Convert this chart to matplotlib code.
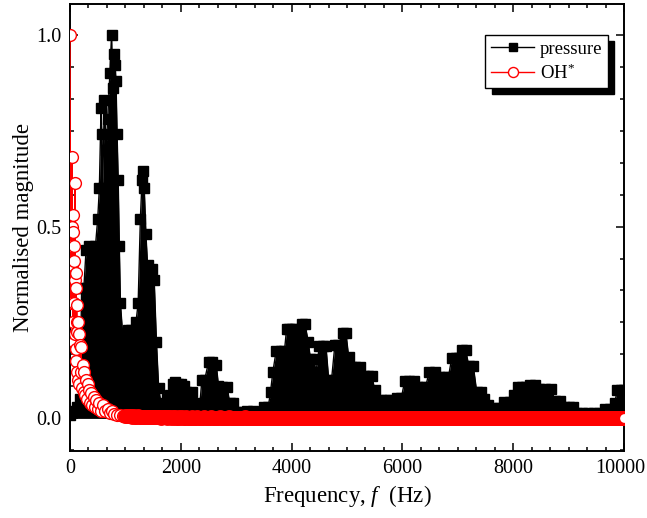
import numpy as np
import matplotlib
matplotlib.use("Agg")
import matplotlib.pyplot as plt
from matplotlib.ticker import AutoMinorLocator, FixedLocator
from matplotlib.transforms import ScaledTranslation

# pressure spectrum (upper envelope of the dense spectrum)
p_freq = [0, 60, 120, 180, 210, 250, 290, 350, 410, 460,
          500, 530, 560, 575, 590, 620, 650, 680, 720, 750,
          770, 790, 810, 830, 850, 870, 890, 910, 950, 1000,
          1050, 1100, 1150, 1190, 1230, 1270, 1300, 1320, 1340, 1370,
          1400, 1440, 1480, 1520, 1560, 1600, 1650, 1700, 1750, 1800,
          1850, 1900, 1950, 2000, 2050, 2100, 2200, 2260, 2300, 2340,
          2380, 2430, 2500, 2570, 2640, 2680, 2750, 2840, 2880, 2950,
          3000, 3100, 3200, 3300, 3380, 3450, 3500, 3580, 3620, 3660,
          3720, 3800, 3870, 3910, 3960, 4000, 4060, 4120, 4190, 4240,
          4300, 4340, 4400, 4440, 4500, 4560, 4620, 4670, 4720, 4780,
          4840, 4920, 4980, 5030, 5080, 5150, 5230, 5300, 5380, 5450,
          5500, 5560, 5620, 5700, 5780, 5840, 5900, 5980, 6040, 6120,
          6200, 6260, 6350, 6420, 6480, 6580, 6660, 6750, 6830, 6890,
          6960, 7020, 7080, 7140, 7200, 7280, 7340, 7420, 7480, 7550,
          7650, 7750, 7830, 7950, 8020, 8080, 8160, 8230, 8300, 8400,
          8470, 8570, 8680, 8760, 8850, 8920, 9000, 9080, 9150, 9250,
          9350, 9450, 9550, 9650, 9750, 9830, 9880, 9950, 10000]
p_mag = [0.01, 0.02, 0.03, 0.05, 0.34, 0.34, 0.44, 0.45, 0.44, 0.45,
         0.52, 0.60, 0.81, 0.74, 0.60, 0.83, 0.70, 0.78, 0.90, 1.00,
         0.86, 0.95, 0.92, 0.88, 0.74, 0.62, 0.45, 0.30, 0.22, 0.20,
         0.23, 0.23, 0.22, 0.25, 0.30, 0.52, 0.62, 0.645, 0.60, 0.48,
         0.40, 0.38, 0.39, 0.36, 0.20, 0.08, 0.03, 0.04, 0.05, 0.06,
         0.09, 0.094, 0.09, 0.09, 0.085, 0.07, 0.07, 0.04, 0.015, 0.03,
         0.10, 0.10, 0.147, 0.147, 0.14, 0.085, 0.082, 0.082, 0.04, 0.04,
         0.016, 0.016, 0.02, 0.02, 0.015, 0.015, 0.031, 0.031, 0.07, 0.12,
         0.175, 0.175, 0.175, 0.234, 0.234, 0.234, 0.234, 0.22, 0.247, 0.247,
         0.20, 0.155, 0.155, 0.12, 0.188, 0.188, 0.188, 0.10, 0.10, 0.19,
         0.19, 0.223, 0.223, 0.16, 0.133, 0.133, 0.133, 0.11, 0.11, 0.11,
         0.074, 0.035, 0.047, 0.047, 0.047, 0.03, 0.053, 0.053, 0.097, 0.097,
         0.097, 0.082, 0.082, 0.082, 0.121, 0.121, 0.107, 0.107, 0.107, 0.158,
         0.158, 0.158, 0.179, 0.179, 0.136, 0.136, 0.07, 0.07, 0.05, 0.035,
         0.027, 0.027, 0.044, 0.044, 0.06, 0.081, 0.081, 0.081, 0.087, 0.087,
         0.077, 0.077, 0.077, 0.046, 0.046, 0.029, 0.029, 0.029, 0.013, 0.013,
         0.013, 0.015, 0.015, 0.025, 0.025, 0.04, 0.074, 0.074, 0.074]

# OH* spectrum: low-frequency decay
oh_freq_low = [0, 10, 20, 30, 36, 45, 50, 55, 60, 65,
               70, 75, 80, 85, 90, 95, 100, 105, 110, 115,
               120, 125, 130, 135, 140, 150, 160, 170, 180, 190,
               200, 215, 230, 245, 260, 275, 290, 305, 320, 340,
               360, 380, 400, 425, 450, 475, 500, 530, 560, 600,
               640, 680, 720, 760, 800, 850, 900, 950]
oh_mag_low = [1.0, 0.45, 0.30, 0.50, 0.68, 0.40, 0.53, 0.25, 0.486, 0.30,
              0.45, 0.20, 0.41, 0.22, 0.614, 0.36, 0.18, 0.38, 0.34, 0.15,
              0.295, 0.25, 0.12, 0.225, 0.25, 0.10, 0.22, 0.09, 0.19, 0.12,
              0.186, 0.08, 0.14, 0.07, 0.12, 0.06, 0.10, 0.05, 0.09, 0.073,
              0.04, 0.065, 0.035, 0.055, 0.03, 0.047, 0.025, 0.04, 0.02, 0.034,
              0.018, 0.025, 0.015, 0.018, 0.012, 0.01, 0.008, 0.007]

# OH* spectrum: flat tail, 25 Hz bins from 1000 to 10000 Hz
oh_freq_tail = np.arange(1000, 10001, 25)
oh_mag_tail = [
    0.006, 0.005, 0.006, 0.005, 0.005, 0.004, 0.005, 0.004, 0.004, 0.005, 0.004, 0.004, 0.003, 0.004, 0.004, 0.003, 0.004, 0.003, 0.003, 0.004,
    0.003, 0.003, 0.004, 0.003, 0.003, 0.003, 0.002, 0.003, 0.003, 0.003, 0.002, 0.003, 0.003, 0.002, 0.003, 0.002, 0.003, 0.002, 0.002, 0.003,
    0.002, 0.003, 0.002, 0.002, 0.003, 0.002, 0.002, 0.002, 0.003, 0.002, 0.002, 0.002, 0.003, 0.002, 0.002, 0.002, 0.002, 0.003, 0.002, 0.002,
    0.002, 0.002, 0.003, 0.002, 0.002, 0.002, 0.002, 0.002, 0.003, 0.002, 0.002, 0.002, 0.002, 0.002, 0.002, 0.003, 0.002, 0.002, 0.002, 0.002,
    0.002, 0.002, 0.002, 0.001, 0.002, 0.002, 0.003, 0.002, 0.002, 0.002, 0.001, 0.002, 0.002, 0.002, 0.002, 0.002, 0.001, 0.002, 0.002, 0.002,
    0.002, 0.001, 0.002, 0.002, 0.002, 0.002, 0.002, 0.001, 0.002, 0.002, 0.002, 0.002, 0.001, 0.002, 0.002, 0.002, 0.002, 0.002, 0.001, 0.002,
    0.002, 0.002, 0.001, 0.002, 0.002, 0.002, 0.001, 0.002, 0.002, 0.002, 0.002, 0.001, 0.002, 0.002, 0.001, 0.002, 0.002, 0.002, 0.002, 0.001,
    0.002, 0.002, 0.002, 0.001, 0.002, 0.002, 0.001, 0.002, 0.002, 0.002, 0.001, 0.002, 0.002, 0.002, 0.002, 0.001, 0.002, 0.002, 0.001, 0.002,
    0.002, 0.001, 0.002, 0.002, 0.002, 0.001, 0.002, 0.002, 0.001, 0.002, 0.002, 0.002, 0.001, 0.002, 0.002, 0.001, 0.002, 0.002, 0.002, 0.001,
    0.002, 0.002, 0.001, 0.002, 0.001, 0.002, 0.002, 0.002, 0.001, 0.002, 0.002, 0.001, 0.002, 0.002, 0.002, 0.001, 0.002, 0.001, 0.002, 0.002,
    0.001, 0.002, 0.002, 0.001, 0.002, 0.002, 0.002, 0.001, 0.002, 0.001, 0.002, 0.002, 0.001, 0.002, 0.002, 0.002, 0.001, 0.002, 0.002, 0.001,
    0.002, 0.001, 0.002, 0.002, 0.001, 0.002, 0.001, 0.002, 0.002, 0.002, 0.001, 0.002, 0.001, 0.002, 0.002, 0.001, 0.002, 0.002, 0.001, 0.002,
    0.002, 0.002, 0.001, 0.002, 0.001, 0.002, 0.002, 0.001, 0.002, 0.002, 0.001, 0.002, 0.002, 0.001, 0.002, 0.001, 0.002, 0.002, 0.002, 0.001,
    0.001, 0.002, 0.002, 0.001, 0.002, 0.002, 0.001, 0.002, 0.001, 0.002, 0.002, 0.001, 0.002, 0.002, 0.001, 0.002, 0.001, 0.002, 0.002, 0.001,
    0.002, 0.001, 0.002, 0.001, 0.002, 0.002, 0.001, 0.002, 0.002, 0.001, 0.002, 0.001, 0.002, 0.002, 0.001, 0.002, 0.002, 0.001, 0.001, 0.002,
    0.002, 0.002, 0.001, 0.002, 0.001, 0.002, 0.001, 0.002, 0.002, 0.001, 0.002, 0.002, 0.001, 0.002, 0.001, 0.002, 0.001, 0.002, 0.002, 0.001,
    0.001, 0.002, 0.002, 0.001, 0.002, 0.001, 0.002, 0.002, 0.001, 0.002, 0.001, 0.002, 0.002, 0.001, 0.002, 0.001, 0.002, 0.001, 0.002, 0.002,
    0.002, 0.001, 0.002, 0.002, 0.001, 0.002, 0.001, 0.002, 0.001, 0.002, 0.002, 0.001, 0.002, 0.001, 0.002, 0.002, 0.001, 0.002, 0.001, 0.002,
    0.002]

oh_freq = np.concatenate([oh_freq_low, oh_freq_tail])
oh_mag = np.concatenate([oh_mag_low, oh_mag_tail])

plt.rcParams.update({"font.family": "Liberation Serif", "mathtext.fontset": "custom",
                     "mathtext.rm": "Liberation Serif", "mathtext.it": "Liberation Serif:italic"})

fig = plt.figure(figsize=(6.47, 5.18), dpi=100)
ax = fig.add_axes([0.1082, 0.1293, 0.8563, 0.8630])

# dense pressure spectrum: filled under the envelope, squares along the top
ax.fill_between(p_freq, 0, p_mag, color="black", lw=0, zorder=2)
ax.plot(p_freq, p_mag, "-s", color="black", lw=1, ms=7.2, zorder=2, label="pressure")
ax.plot(oh_freq, oh_mag, "-o", color="red", lw=1, ms=8.5, mfc="white", mec="red",
        mew=1.0, zorder=3, label="OH$^{*}$")
# tail bins are so close together that their rings merge into one red band
ax.plot(oh_freq_tail, oh_mag_tail, "o", color="red", ms=8.5, mfc="white", mec="red",
        mew=2.2, zorder=3)

ax.set_xlim(0, 10000)
ax.set_ylim(-0.085, 1.08)
ax.xaxis.set_major_locator(FixedLocator([0, 2000, 4000, 6000, 8000, 10000]))
ax.xaxis.set_minor_locator(AutoMinorLocator(6))
ax.yaxis.set_major_locator(FixedLocator([0.0, 0.5, 1.0]))
ax.yaxis.set_minor_locator(AutoMinorLocator(6))
ax.set_yticklabels(["0.0", "0.5", "1.0"])
ax.tick_params(which="both", direction="in", top=True, right=True, labelsize=14.5, width=1.1)
ax.tick_params(which="major", length=6, pad=6)
ax.tick_params(which="minor", length=3)
for s in ax.spines.values():
    s.set_linewidth(1.4)

# keep "10000" inside the canvas
last = ax.get_xticklabels()[-1]
last.set_transform(last.get_transform() + ScaledTranslation(-2.5 / 72, 0, fig.dpi_scale_trans))

ax.set_xlabel("Frequency, $f$  (Hz)", fontsize=16.5, labelpad=3)
ax.set_ylabel("Normalised magnitude", fontsize=16.5, labelpad=1.5)

leg = ax.legend(loc="upper right", bbox_to_anchor=(0.971, 0.931), borderaxespad=0,
                fontsize=13.5, frameon=True, fancybox=False, edgecolor="black", framealpha=1,
                shadow={"ox": 4.5, "oy": -4.5, "color": "black", "alpha": 1},
                handlelength=2.3, handletextpad=0.3, borderpad=0.3, labelspacing=0.3,
                markerscale=0.85)
leg.get_frame().set_linewidth(1.0)

fig.savefig("out.png", dpi=100)
